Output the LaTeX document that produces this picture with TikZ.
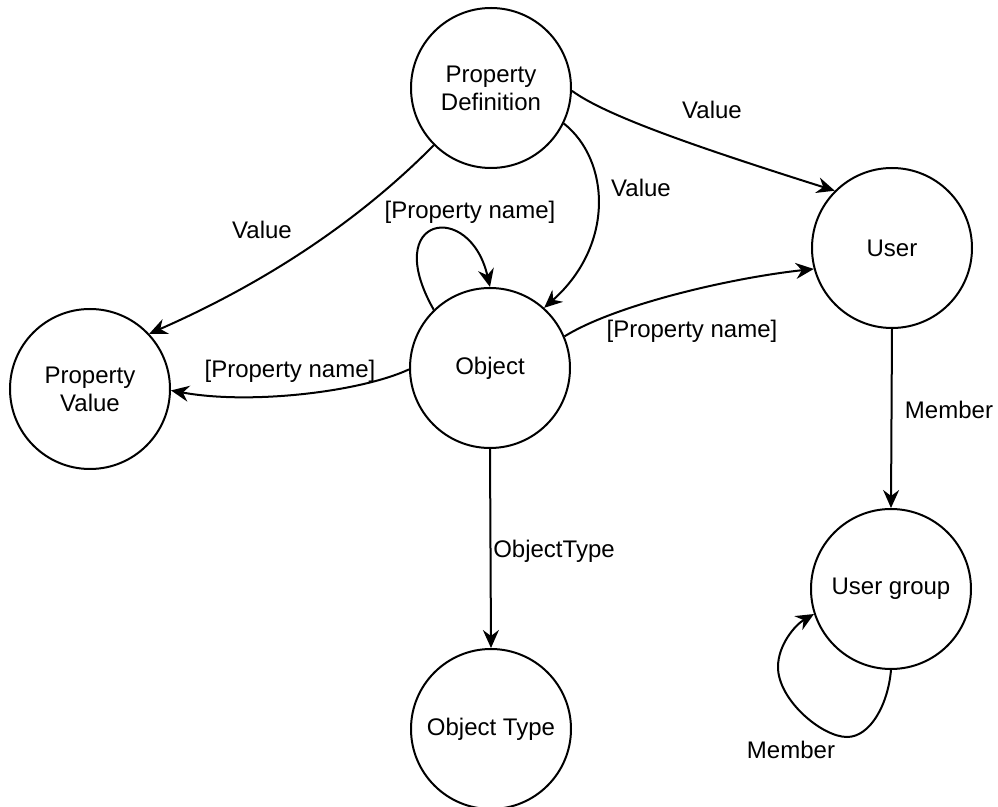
\documentclass[tikz,border=0pt]{standalone}
\usepackage{fontspec}
\setmainfont{Liberation Sans}
\usetikzlibrary{arrows.meta}
\begin{document}
\begin{tikzpicture}[x=0.5pt,y=-0.5pt,
  ent/.style={circle,draw,line width=1pt,minimum size=80pt,inner sep=0pt,align=center,font=\fontsize{12}{14}\selectfont},
  conn/.style={line width=1pt,-{Stealth[length=9pt,width=8pt,inset=3pt]}},
  lbl/.style={font=\fontsize{12}{14}\selectfont,inner sep=0pt}]
\useasboundingbox (0,0) rectangle (998,807);
% nodes
\node[ent] (PD) at (491,88) {Property\\Definition};
\node[ent] (PV) at (90,389) {Property\\Value};
\node[ent] (OB) at (490,368) {Object};
\node[ent] (US) at (892,248) {User};
\node[ent] (UG) at (891,589) {User group};
\node[ent] (OT) at (491,729) {Object Type};
% connectors
\draw[conn] (PD.225.5) .. controls (359,221) and (265,283) .. (PV.43.5);
\draw[conn] (PD.-26.6) .. controls (610,160) and (615,245) .. (OB.48);
\draw[conn] (PD.-2) .. controls (605,115) and (690,145) .. (US.135.5);
\draw[conn] (OB.134.5) .. controls (380,215) and (470,200) .. (OB.90);
\draw[conn] (OB.181) .. controls (360,392) and (250,405) .. (PV.-1);
\draw[conn] (OB.23) .. controls (615,305) and (730,278) .. (US.195);
\draw[conn] (OB.south) -- (OT.north);
\draw[conn] (US.south) -- (UG.north);
\draw[conn] (UG.270) .. controls (888,705) and (870,737) .. (847,737)
  .. controls (822,737) and (778,700) .. (778,667)
  .. controls (778,645) and (795,625) .. (UG.198);
% labels
\node[lbl] (l1) at (262,230) {Value};
\node[lbl] (l2) at (641,188) {Value};
\node[lbl] (l3) at (712,110) {Value};
\node[lbl] (l4) at (470,212) {[Property name]};
\node[lbl] (l5) at (290,371) {[Property name]};
\node[lbl] (l6) at (692,331) {[Property name]};
\node[lbl] (l7) at (554,551) {ObjectType};
\node[lbl] (l8) at (949,410) {Member};
\node[lbl] (l9) at (791,750) {Member};
\end{tikzpicture}
\end{document}
